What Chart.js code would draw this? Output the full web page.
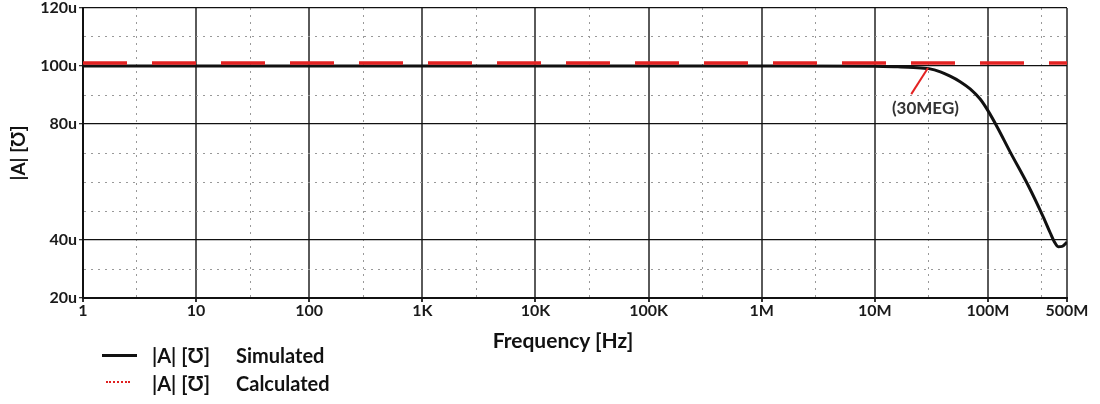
<!DOCTYPE html>
<html>
<head>
<meta charset="utf-8">
<script src="https://cdn.jsdelivr.net/npm/chart.js@4.4.1/dist/chart.umd.min.js"></script>
<style>
  body { margin: 0; background: #fff; }
  #wrap { position: relative; width: 1100px; height: 404px; }
  .leg { position: absolute; font: bold 20px Lato, "DejaVu Sans", sans-serif; color: #111; line-height: 24px; }
  .sw { position: absolute; }
  #xtitle { position: absolute; left: 463px; width: 200px; top: 328px; text-align: center;
            font: bold 21px Lato, "DejaVu Sans", sans-serif; color: #111; line-height: 24px; }
</style>
</head>
<body>
<div id="wrap">
  <canvas id="myChart" width="1100" height="404"></canvas>
  <div id="xtitle">Frequency [Hz]</div>
  <div class="sw" style="left:102px; top:354px; width:35px; height:0; border-top:3px solid #111;"></div>
  <div class="leg" style="left:152px; top:343px;">|A| [Ʊ]</div>
  <div class="leg" style="left:236px; top:343px;">Simulated</div>
  <div class="sw" style="left:106px; top:381px; width:24px; height:0; border-top:2px dotted #e02020;"></div>
  <div class="leg" style="left:152px; top:371px;">|A| [Ʊ]</div>
  <div class="leg" style="left:236px; top:371px;">Calculated</div>
</div>
<script>
// axis ticks
let freqTicks = [1, 10, 100, 1e3, 1e4, 1e5, 1e6, 1e7, 1e8, 5e8];
let freqLabels = ['1', '10', '100', '1K', '10K', '100K', '1M', '10M', '100M', '500M'];
let freqMinor = [3, 30, 300, 3e3, 3e4, 3e5, 3e6, 3e7, 3e8];
let ampTicks = [20, 40, 80, 100, 120];   // labelled, solid lines (u)
let ampLabels = ['20u', '40u', '80u', '100u', '120u'];

// simulated |A| (u) vs frequency (Hz)
let simFreq = [1, 10, 100, 1e3, 1e4, 1e5, 1e6, 1e7, 1.6e7, 2.2e7, 3e7, 3.8e7, 4.63e7, 5.68e7, 6.96e7, 8.53e7, 1e8, 1.21e8, 1.57e8, 2.27e8, 3.08e8, 3.55e8, 3.85e8, 4.18e8, 4.53e8, 5e8];
let simVals = [100, 100, 100, 100, 100, 100, 100, 99.9, 99.7, 99.5, 99.1, 98.0, 96.5, 94.6, 92.1, 88.6, 84.6, 78.9, 70.4, 58.8, 48.0, 42.5, 39.5, 37.7, 37.8, 39.3];

// calculated |A| (u)
let calcFreq = [1, 5e8];
let calcVals = [101, 101];

// 30MEG marker
let markFreq = [2.95e7, 2.1e7];
let markVals = [99.3, 90.3];
let markText = '(30MEG)';
let markTextAt = {x: 2.8e7, y: 85.4};

let ctx = document.getElementById('myChart').getContext('2d');
let font = 'Lato, "DejaVu Sans", sans-serif';

let isMajorX = (v) => freqTicks.indexOf(v) >= 0;
let isMajorY = (v) => ampTicks.indexOf(v) >= 0;

let textPlugin = {
  id: 'markText',
  afterDatasetsDraw(chart) {
    let c = chart.ctx;
    let x = chart.scales.x.getPixelForValue(markTextAt.x);
    let y = chart.scales.y.getPixelForValue(markTextAt.y);
    c.save();
    c.font = 'bold 17px ' + font;
    c.fillStyle = '#333';
    c.textAlign = 'center';
    c.textBaseline = 'middle';
    c.fillText(markText, x, y);
    c.restore();
  }
};

let chart = new Chart(ctx, {
  type: 'line',
  data: {
    datasets: [{
      data: calcFreq.map((f, i) => ({x: f, y: calcVals[i]})),
      borderColor: '#e32222',
      borderWidth: 3.5,
      borderDash: [44, 25],
      pointRadius: 0,
      fill: false
    }, {
      data: markFreq.map((f, i) => ({x: f, y: markVals[i]})),
      borderColor: '#e32222',
      borderWidth: 2,
      pointRadius: 0,
      fill: false
    }, {
      data: simFreq.map((f, i) => ({x: f, y: simVals[i]})),
      borderColor: '#111',
      borderWidth: 3,
      cubicInterpolationMode: 'monotone',
      pointRadius: 0,
      fill: false
    }]
  },
  options: {
    responsive: false,
    animation: false,
    layout: { padding: { left: 0, top: 6, right: 33, bottom: 48 } },
    plugins: { legend: { display: false }, tooltip: { enabled: false } },
    scales: {
      x: {
        type: 'logarithmic',
        min: 1,
        max: 5e8,
        afterBuildTicks: (s) => {
          s.ticks = freqTicks.concat(freqMinor).sort((a, b) => a - b).map(v => ({value: v}));
        },
        afterFit: (s) => { s.height = 58; },
        ticks: {
          autoSkip: false,
          maxRotation: 0,
          padding: 1,
          color: '#1a1a1a',
          font: { family: font, size: 16, weight: 'bold', lineHeight: 1 },
          callback: (v) => isMajorX(v) ? freqLabels[freqTicks.indexOf(v)] : ''
        },
        grid: {
          color: (c) => isMajorX(c.tick.value) ? '#5a5a5a' : '#999',
          lineWidth: (c) => isMajorX(c.tick.value) ? 2 : 1,
          tickLength: 4,
          tickColor: (c) => isMajorX(c.tick.value) ? '#333' : 'rgba(0,0,0,0)'
        },
        border: {
          color: '#111',
          width: 2,
          dash: (c) => isMajorX(c.tick.value) ? [] : [2, 5]
        }
      },
      y: {
        min: 20,
        max: 120,
        afterBuildTicks: (s) => {
          let t = [];
          for (let v = 20; v <= 120; v += 10) t.push({value: v});
          s.ticks = t;
        },
        afterFit: (s) => { s.width = 83; },
        ticks: {
          autoSkip: false,
          padding: 2,
          color: '#1a1a1a',
          font: { family: font, size: 16, weight: 'bold', lineHeight: 0.75 },
          callback: (v) => isMajorY(v) ? ampLabels[ampTicks.indexOf(v)] : ''
        },
        grid: {
          color: (c) => isMajorY(c.tick.value) ? '#111' : '#999',
          lineWidth: (c) => isMajorY(c.tick.value) ? 1.3 : 1,
          tickLength: 4,
          tickColor: (c) => isMajorY(c.tick.value) ? '#333' : 'rgba(0,0,0,0)'
        },
        border: {
          color: '#111',
          width: 2,
          dash: (c) => isMajorY(c.tick.value) ? [] : [2, 5]
        },
        title: {
          display: true,
          text: '|A| [Ʊ]',
          color: '#111',
          font: { family: font, size: 19, weight: 'bold' },
          padding: { top: 7, bottom: 0 }
        }
      }
    }
  },
  plugins: [textPlugin]
});
</script>
</body>
</html>
